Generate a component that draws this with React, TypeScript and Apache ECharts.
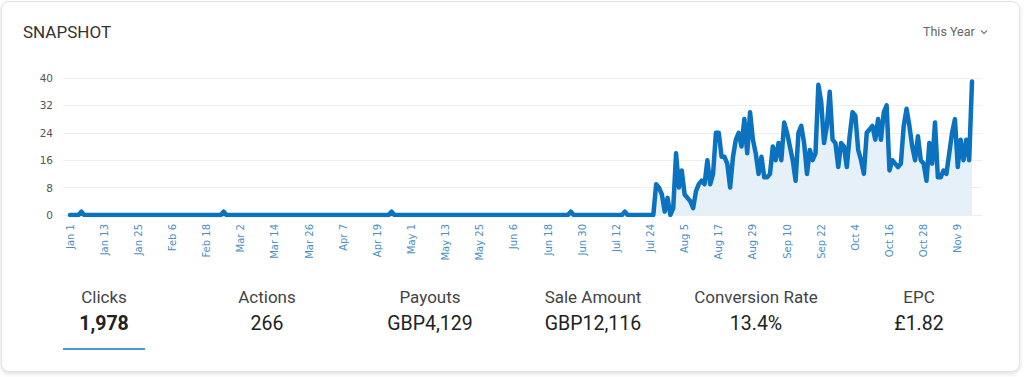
import React, { useEffect, useRef } from "react";
import * as echarts from "echarts";

// Daily clicks, Jan 1 .. Nov 14 (non-leap year)
const startMonthDay = { month: 0, day: 1 };
const clicks: number[] = [
  0, 0, 0, 0, 1, 0, 0, 0, 0, 0,
  0, 0, 0, 0, 0, 0, 0, 0, 0, 0,
  0, 0, 0, 0, 0, 0, 0, 0, 0, 0,
  0, 0, 0, 0, 0, 0, 0, 0, 0, 0,
  0, 0, 0, 0, 0, 0, 0, 0, 0, 0,
  0, 0, 0, 0, 1, 0, 0, 0, 0, 0,
  0, 0, 0, 0, 0, 0, 0, 0, 0, 0,
  0, 0, 0, 0, 0, 0, 0, 0, 0, 0,
  0, 0, 0, 0, 0, 0, 0, 0, 0, 0,
  0, 0, 0, 0, 0, 0, 0, 0, 0, 0,
  0, 0, 0, 0, 0, 0, 0, 0, 0, 0,
  0, 0, 0, 1, 0, 0, 0, 0, 0, 0,
  0, 0, 0, 0, 0, 0, 0, 0, 0, 0,
  0, 0, 0, 0, 0, 0, 0, 0, 0, 0,
  0, 0, 0, 0, 0, 0, 0, 0, 0, 0,
  0, 0, 0, 0, 0, 0, 0, 0, 0, 0,
  0, 0, 0, 0, 0, 0, 0, 0, 0, 0,
  0, 0, 0, 0, 0, 0, 1, 0, 0, 0,
  0, 0, 0, 0, 0, 0, 0, 0, 0, 0,
  0, 0, 0, 0, 0, 1, 0, 0, 0, 0,
  0, 0, 0, 0, 0, 0, 9, 8, 6, 1,
  5, 0, 2, 18, 8, 13, 6, 5, 4, 2,
  7, 9, 10, 9, 16, 9, 12, 24, 24, 17,
  17, 15, 8, 17, 22, 24, 20, 28, 18, 30,
  22, 18, 12, 17, 11, 11, 12, 20, 16, 21,
  16, 27, 24, 20, 16, 10, 24, 26, 21, 12,
  19, 16, 18, 38, 33, 21, 26, 36, 22, 21,
  14, 21, 20, 14, 23, 30, 29, 19, 16, 12,
  24, 25, 26, 22, 28, 22, 30, 32, 13, 16,
  15, 14, 15, 26, 31, 26, 20, 16, 23, 16,
  15, 10, 21, 15, 27, 11, 11, 13, 12, 18,
  24, 28, 14, 22, 16, 22, 16, 39,
];

const monthNames = ["Jan", "Feb", "Mar", "Apr", "May", "Jun", "Jul", "Aug", "Sep", "Oct", "Nov", "Dec"];
const monthDays = [31, 28, 31, 30, 31, 30, 31, 31, 30, 31, 30, 31];

function buildCategories(n: number): string[] {
  const out: string[] = [];
  let m = startMonthDay.month;
  let d = startMonthDay.day;
  for (let i = 0; i < n; i++) {
    out.push(`${monthNames[m]} ${d}`);
    d++;
    if (d > monthDays[m]) {
      d = 1;
      m++;
    }
  }
  return out;
}
const categories = buildCategories(clicks.length);

const yTicks = { min: 0, max: 40, interval: 8 };

const statLabels = ["Clicks", "Actions", "Payouts", "Sale Amount", "Conversion Rate", "EPC"];
const statValues = ["1,978", "266", "GBP4,129", "GBP12,116", "13.4%", "£1.82"];

const title = "SNAPSHOT";
const periodLabel = "This Year";

const FONT = "Roboto, 'Noto Sans', sans-serif";

function Chart() {
  const ref = useRef<HTMLDivElement>(null);
  useEffect(() => {
    if (!ref.current) return;
    const chart = echarts.init(ref.current, null, { renderer: "svg" });
    chart.setOption({
      animation: false,
      grid: [
        { left: 70, top: 78, width: 902, height: 137 },
        { left: 63, top: 78, width: 919, height: 137 },
      ],
      xAxis: [
        {
          type: "category",
          gridIndex: 0,
          data: categories,
          boundaryGap: false,
          axisLine: { show: false },
          axisTick: { show: false },
          splitLine: { show: false },
          axisLabel: {
            interval: 11,
            rotate: 90,
            margin: 9,
            color: "#4a8fc2",
            fontSize: 10,
            fontFamily: "'DejaVu Sans', Verdana, sans-serif",
          },
        },
        { type: "value", gridIndex: 1, show: false, min: 0, max: 1 },
      ],
      yAxis: [
        {
          type: "value",
          gridIndex: 0,
          min: yTicks.min,
          max: yTicks.max,
          interval: yTicks.interval,
          axisLabel: { show: false },
          splitLine: { show: false },
          axisLine: { show: false },
          axisTick: { show: false },
        },
        {
          type: "value",
          gridIndex: 1,
          min: yTicks.min,
          max: yTicks.max,
          interval: yTicks.interval,
          axisLabel: {
            color: "#555",
            fontSize: 10.5,
            fontFamily: "'DejaVu Sans', Verdana, sans-serif",
            margin: 10,
          },
          splitLine: { lineStyle: { color: "#efefef", width: 1 } },
          axisLine: { show: false },
          axisTick: { show: false },
        },
      ],
      series: [
        {
          type: "line",
          xAxisIndex: 0,
          yAxisIndex: 0,
          data: clicks,
          symbol: "none",
          showSymbol: false,
          lineStyle: { color: "#0b72c0", width: 4.5, cap: "round", join: "round" },
          areaStyle: { color: "#e5f0f9", opacity: 1 },
        },
      ],
    });
    return () => chart.dispose();
  }, []);
  return (
    <div
      ref={ref}
      style={{ position: "absolute", left: 0, top: 0, width: 1024, height: 270 }}
    />
  );
}

export default function App() {
  const colW = 163;
  const colStart = 22.5;
  return (
    <div
      style={{
        position: "fixed",
        left: 0,
        top: 0,
        width: 1024,
        height: 377,
        background: "#ffffff",
        overflow: "hidden",
        fontFamily: FONT,
      }}
    >
      <div
        style={{
          position: "absolute",
          left: 1,
          top: 1,
          width: 1019,
          height: 371,
          boxSizing: "border-box",
          border: "1px solid #e3e3e3",
          borderRadius: 8,
          background: "#fff",
          boxShadow: "0 2px 4px rgba(0,0,0,0.12)",
        }}
      />
      <Chart />
      <div
        style={{
          position: "absolute",
          left: 23,
          top: 22,
          fontSize: 17,
          lineHeight: "20px",
          color: "#333",
        }}
      >
        {title}
      </div>
      <div
        style={{
          position: "absolute",
          left: 923,
          top: 24,
          fontSize: 12.5,
          lineHeight: "16px",
          color: "#666",
          display: "flex",
          alignItems: "center",
          whiteSpace: "nowrap",
        }}
      >
        <span>{periodLabel}</span>
        <svg width="10" height="8" style={{ marginLeft: 4 }} viewBox="0 0 10 8">
          <polyline points="2,2.5 5,5.5 8,2.5" fill="none" stroke="#777" strokeWidth="1.1" />
        </svg>
      </div>
      {statLabels.map((lab, i) => (
        <React.Fragment key={lab}>
          <div
            style={{
              position: "absolute",
              left: colStart + i * colW,
              width: colW,
              top: 287,
              textAlign: "center",
              fontSize: 17,
              lineHeight: "20px",
              color: "#444",
              whiteSpace: "nowrap",
            }}
          >
            {lab}
          </div>
          <div
            style={{
              position: "absolute",
              left: colStart + i * colW,
              width: colW,
              top: 312,
              textAlign: "center",
              fontSize: 19.5,
              lineHeight: "24px",
              color: "#222",
              fontWeight: i === 0 ? 700 : 400,
              whiteSpace: "nowrap",
            }}
          >
            {statValues[i]}
          </div>
        </React.Fragment>
      ))}
      <div
        style={{
          position: "absolute",
          left: 63,
          top: 348,
          width: 82,
          height: 2,
          background: "#4b9ad8",
        }}
      />
    </div>
  );
}
